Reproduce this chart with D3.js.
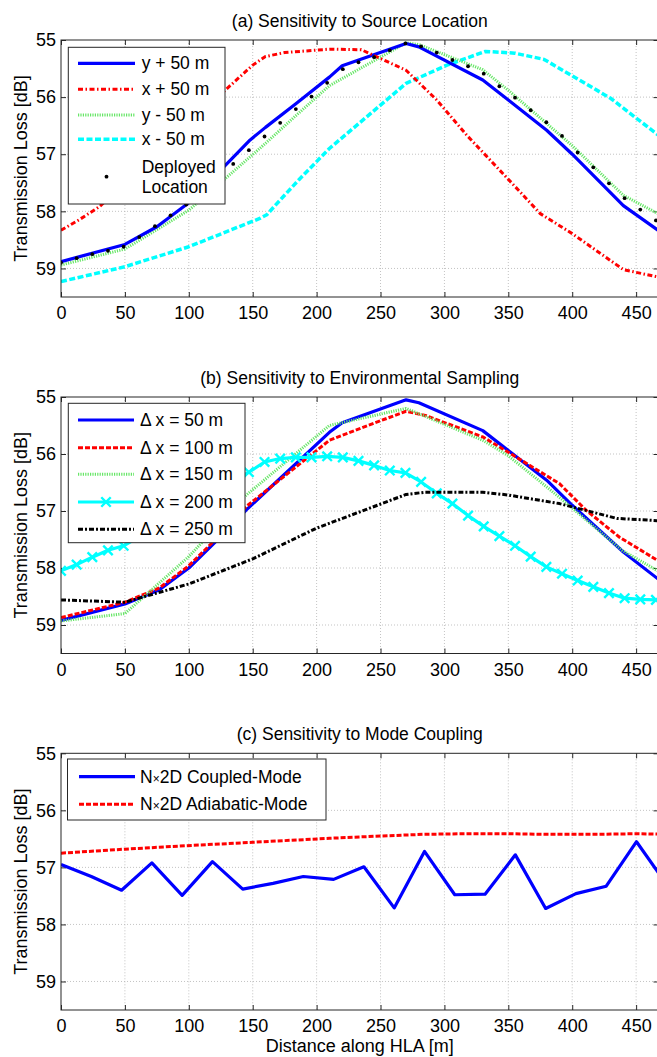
<!DOCTYPE html>
<html><head><meta charset="utf-8">
<script src="https://cdn.jsdelivr.net/npm/d3@7"></script>
<style>
body{margin:0;background:#fff}
svg{display:block}
text{font-family:"Liberation Sans",Arial,Helvetica,sans-serif;fill:#000}
</style>
</head><body>
<svg id="c" width="657" height="1057"></svg>
<script>
// ---------- tick labels ----------
const xTicks = [0, 50, 100, 150, 200, 250, 300, 350, 400, 450];
const yTicks = [55, 56, 57, 58, 59];
const titles = ["(a) Sensitivity to Source Location", "(b) Sensitivity to Environmental Sampling", "(c) Sensitivity to Mode Coupling"];
const yLabel = "Transmission Loss [dB]";
const xLabel = "Distance along HLA [m]";

// ---------- panel (a) ----------
const aYp50_x = [0, 50, 75, 100, 148, 160, 184, 210, 220, 270, 280, 330, 350, 380, 400, 440, 467];
const aYp50_y = [58.88, 58.58, 58.27, 57.85, 56.75, 56.53, 56.11, 55.65, 55.45, 55.06, 55.12, 55.70, 56.05, 56.58, 57.0, 57.9, 58.33];
const aXp50_x = [0, 14, 30, 50, 123, 150, 160, 175, 210, 235, 270, 294, 318, 350, 375, 400, 440, 467];
const aXp50_y = [58.33, 58.15, 57.92, 57.5, 55.99, 55.44, 55.29, 55.22, 55.16, 55.17, 55.53, 56.05, 56.68, 57.44, 58.04, 58.39, 59.02, 59.15];
const aYm50_x = [0, 50, 100, 135, 160, 183, 210, 270, 280, 330, 350, 400, 440, 467];
const aYm50_y = [58.94, 58.66, 57.98, 57.3, 56.81, 56.34, 55.8, 55.05, 55.08, 55.52, 55.88, 56.85, 57.72, 58.04];
const aXm50_x = [0, 50, 100, 156, 161, 174, 186, 210, 270, 302, 332, 355, 378, 430, 467];
const aXm50_y = [59.23, 58.97, 58.62, 58.12, 58.06, 57.74, 57.45, 56.9, 55.76, 55.44, 55.20, 55.23, 55.34, 56.02, 56.66];
const hlaX = [0, 12.25, 24.5, 36.75, 49, 61.25, 73.5, 85.75, 98, 110.25, 122.5, 134.75, 147, 159.25, 171.5, 183.75, 196, 208.25, 220.5, 232.75, 245, 257.25, 269.5, 281.75, 294, 306.25, 318.5, 330.75, 343, 355.25, 367.5, 379.75, 392, 404.25, 416.5, 428.75, 441, 453.25, 465.5];
const aDeployed = [58.90, 58.82, 58.75, 58.69, 58.62, 58.45, 58.26, 58.07, 57.88, 57.64, 57.41, 57.17, 56.93, 56.69, 56.45, 56.21, 55.99, 55.75, 55.51, 55.39, 55.30, 55.18, 55.06, 55.11, 55.22, 55.35, 55.46, 55.59, 55.81, 56.01, 56.23, 56.44, 56.68, 56.97, 57.23, 57.51, 57.77, 57.97, 58.16];

// ---------- panel (b) ----------
const bD50_x = [0, 50, 77, 100, 125, 145, 210, 220, 270, 280, 330, 350, 380, 400, 440, 467];
const bD50_y = [58.92, 58.63, 58.38, 58.0, 57.45, 56.98, 55.62, 55.45, 55.05, 55.1, 55.59, 55.94, 56.46, 56.9, 57.72, 58.19];
const bD100_x = [0, 50, 77, 100, 125, 145, 210, 240, 270, 286, 330, 350, 390, 411, 437, 467];
const bD100_y = [58.87, 58.6, 58.35, 57.96, 57.41, 56.92, 55.76, 55.5, 55.25, 55.33, 55.7, 55.97, 56.52, 56.99, 57.46, 57.87];
const bD150_x = [0, 50, 75, 100, 145, 210, 270, 330, 350, 390, 439, 467];
const bD150_y = [58.93, 58.8, 58.3, 57.8, 56.72, 55.5, 55.2, 55.76, 56.03, 56.76, 57.69, 58.05];
const bD200_y = [58.05, 57.94, 57.81, 57.69, 57.61, 57.45, 57.29, 57.12, 56.96, 56.80, 56.64, 56.48, 56.32, 56.14, 56.08, 56.06, 56.06, 56.04, 56.06, 56.12, 56.20, 56.29, 56.33, 56.49, 56.69, 56.87, 57.08, 57.27, 57.44, 57.61, 57.80, 57.98, 58.10, 58.22, 58.33, 58.44, 58.53, 58.55, 58.56];
const bD250_x = [0, 50, 100, 150, 200, 270, 285, 330, 350, 390, 435, 467];
const bD250_y = [58.56, 58.6, 58.28, 57.84, 57.3, 56.71, 56.67, 56.67, 56.72, 56.87, 57.13, 57.17];

// ---------- panel (c) ----------
const cX = [0, 23.7, 47.4, 71.1, 94.8, 118.5, 142.2, 165.9, 189.6, 213.3, 237, 260.7, 284.4, 308.1, 331.8, 355.5, 379.2, 402.9, 426.6, 450.3, 474];
const cCoupled = [56.95, 57.16, 57.4, 56.92, 57.49, 56.9, 57.38, 57.28, 57.16, 57.21, 56.99, 57.71, 56.72, 57.48, 57.47, 56.78, 57.72, 57.46, 57.33, 56.55, 57.3];
const cAdiab_x = [0, 50, 98, 150, 210, 250, 284, 318, 350, 378, 420, 450, 474];
const cAdiab_y = [56.75, 56.68, 56.62, 56.56, 56.49, 56.45, 56.42, 56.41, 56.41, 56.42, 56.42, 56.41, 56.42];

// ---------- layout / style ----------
const plotL = 61, plotR = 658.5;
const panelTB = [[40, 297], [397, 653.5], [753.3, 1010]];
const FS_TICK = 18, FS_TITLE = 17.5, FS_LEG = 17.5, FS_LAB = 18;

const sty = {
  blue:   {stroke: "#0000ff", w: 3.2, dash: null},
  redDD:  {stroke: "#ff0000", w: 3, dash: "5,2.5,1.5,2.5"},
  green:  {stroke: "#66e666", w: 3, dash: "1.2,1.2"},
  cyanD:  {stroke: "#00ffff", w: 3.5, dash: "6,2.5"},
  redD:   {stroke: "#ff0000", w: 3, dash: "5,2"},
  cyanS:  {stroke: "#00ffff", w: 3.2, dash: null, marker: true},
  blackDD:{stroke: "#000000", w: 3, dash: "5,2,2,2"},
  dots:   {dots: true}
};

const panels = [
  {series: [
    {name: "y + 50 m", x: aYp50_x, y: aYp50_y, s: sty.blue},
    {name: "x + 50 m", x: aXp50_x, y: aXp50_y, s: sty.redDD},
    {name: "y - 50 m", x: aYm50_x, y: aYm50_y, s: sty.green},
    {name: "x - 50 m", x: aXm50_x, y: aXm50_y, s: sty.cyanD},
    {name: ["Deployed", "Location"], x: hlaX, y: aDeployed, s: sty.dots}
   ],
   order: [3, 2, 0, 1, 4],
   legend: {x0: 68.3, x1: 225, y0: 47.3, y1: 204, rows: [63.3, 89.3, 115, 139.3, 176.7], sx0: 78, sx1: 135, tx: 141.7}
  },
  {series: [
    {name: "Δ x = 50 m", x: bD50_x, y: bD50_y, s: sty.blue},
    {name: "Δ x = 100 m", x: bD100_x, y: bD100_y, s: sty.redD},
    {name: "Δ x = 150 m", x: bD150_x, y: bD150_y, s: sty.green},
    {name: "Δ x = 200 m", x: hlaX, y: bD200_y, s: sty.cyanS},
    {name: "Δ x = 250 m", x: bD250_x, y: bD250_y, s: sty.blackDD}
   ],
   order: [0, 1, 2, 3, 4],
   legend: {x0: 68.3, x1: 245, y0: 403.3, y1: 542.7, rows: [420, 447.7, 474.3, 502, 529.3], sx0: 78, sx1: 134, tx: 140}
  },
  {series: [
    {name: "N×2D Coupled-Mode", x: cX, y: cCoupled, s: sty.blue},
    {name: "N×2D Adiabatic-Mode", x: cAdiab_x, y: cAdiab_y, s: sty.redD}
   ],
   order: [0, 1],
   legend: {x0: 67.5, x1: 326, y0: 759, y1: 820, rows: [776.7, 804.3], sx0: 79, sx1: 135, tx: 140}
  }
];

const svg = d3.select("#c");
const x = d3.scaleLinear().domain([0, 467.5]).range([plotL, plotR]);
const xSymbol = d3.symbol().type(d3.symbolX).size(60);

panels.forEach((p, pi) => {
  const [top, bot] = panelTB[pi];
  const y = d3.scaleLinear().domain([55, 59.5]).range([top, bot]);
  const g = svg.append("g");
  const clipId = "clip" + pi;
  svg.append("clipPath").attr("id", clipId).append("rect")
    .attr("x", plotL).attr("y", top).attr("width", plotR - plotL).attr("height", bot - top);

  // grid
  const grid = g.append("g").attr("stroke", "#b4b4b4").attr("stroke-width", 0.8).attr("stroke-dasharray", "1,2");
  xTicks.forEach(t => { if (t > 0) grid.append("line").attr("x1", x(t)).attr("x2", x(t)).attr("y1", top).attr("y2", bot); });
  yTicks.forEach(t => { if (t > 55) grid.append("line").attr("x1", plotL).attr("x2", plotR).attr("y1", y(t)).attr("y2", y(t)); });

  // axes
  const ax = g.append("g").attr("transform", `translate(0,${bot})`)
    .call(d3.axisBottom(x).tickValues(xTicks).tickFormat(d3.format("d")).tickSizeInner(-5).tickSizeOuter(0).tickPadding(9.7));
  const axT = g.append("g").attr("transform", `translate(0,${top})`)
    .call(d3.axisTop(x).tickValues(xTicks).tickSizeInner(-5).tickSizeOuter(0).tickFormat(""));
  const ay = g.append("g").attr("transform", `translate(${plotL},0)`)
    .call(d3.axisLeft(y).tickValues(yTicks).tickFormat(d3.format("d")).tickSizeInner(-5).tickSizeOuter(0).tickPadding(5));
  const ayR = g.append("g").attr("transform", `translate(${plotR},0)`)
    .call(d3.axisRight(y).tickValues(yTicks).tickSizeInner(-5).tickSizeOuter(0).tickFormat(""));
  [ax, axT, ay, ayR].forEach(a => {
    a.select(".domain").remove();
    a.selectAll("line").attr("stroke", "#262626");
    a.selectAll("text").attr("font-size", FS_TICK).attr("font-family", null).attr("fill", "#000");
  });

  // series
  const lines = g.append("g").attr("clip-path", `url(#${clipId})`);
  p.order.forEach(si => {
    const s = p.series[si];
    const pts = s.x.map((v, i) => [v, s.y[i]]);
    if (s.s.dots) {
      lines.selectAll(null).data(pts).enter().append("circle")
        .attr("cx", d => x(d[0])).attr("cy", d => y(d[1])).attr("r", 1.9).attr("fill", "#000");
      return;
    }
    lines.append("path").datum(pts)
      .attr("d", d3.line().x(d => x(d[0])).y(d => y(d[1])))
      .attr("fill", "none").attr("stroke", s.s.stroke).attr("stroke-width", s.s.w)
      .attr("stroke-dasharray", s.s.dash).attr("stroke-linejoin", "round");
    if (s.s.marker) {
      lines.selectAll(null).data(pts).enter().append("path")
        .attr("d", xSymbol).attr("transform", d => `translate(${x(d[0])},${y(d[1])})`)
        .attr("fill", "none").attr("stroke", s.s.stroke).attr("stroke-width", 2.4);
    }
  });

  // box
  g.append("rect").attr("x", plotL).attr("y", top).attr("width", plotR - plotL).attr("height", bot - top)
    .attr("fill", "none").attr("stroke", "#262626").attr("stroke-width", 1);

  // title
  g.append("text").attr("x", (plotL + plotR) / 2).attr("y", top - 13)
    .attr("text-anchor", "middle").attr("font-size", FS_TITLE).text(titles[pi]);

  // y label
  g.append("text").attr("transform", `translate(27,${(top + bot) / 2}) rotate(-90)`)
    .attr("text-anchor", "middle").attr("font-size", FS_LAB).text(yLabel);

  // legend
  const L = p.legend;
  const lg = g.append("g");
  lg.append("rect").attr("x", L.x0).attr("y", L.y0).attr("width", L.x1 - L.x0).attr("height", L.y1 - L.y0)
    .attr("fill", "#fff").attr("stroke", "#262626").attr("stroke-width", 1);
  p.series.forEach((s, i) => {
    const ry = L.rows[i];
    if (s.s.dots) {
      lg.append("circle").attr("cx", (L.sx0 + L.sx1) / 2).attr("cy", ry).attr("r", 1.9).attr("fill", "#000");
      s.name.forEach((nm, k) => lg.append("text").attr("x", L.tx).attr("y", ry + (k === 0 ? -9.5 : 10))
        .attr("dy", "0.35em").attr("font-size", FS_LEG).text(nm));
      return;
    }
    lg.append("line").attr("x1", L.sx0).attr("x2", L.sx1).attr("y1", ry).attr("y2", ry)
      .attr("stroke", s.s.stroke).attr("stroke-width", s.s.w).attr("stroke-dasharray", s.s.dash);
    if (s.s.marker) {
      lg.append("path").attr("d", xSymbol).attr("transform", `translate(${(L.sx0 + L.sx1) / 2},${ry})`)
        .attr("fill", "none").attr("stroke", s.s.stroke).attr("stroke-width", 2.4);
    }
    const t = lg.append("text").attr("x", L.tx).attr("y", ry).attr("dy", "0.35em").attr("font-size", FS_LEG);
    if (s.name.indexOf("×") >= 0) {
      const parts = s.name.split("×");
      t.append("tspan").text(parts[0]);
      t.append("tspan").attr("font-size", 12).text("×");
      t.append("tspan").text(parts[1]);
    } else {
      t.text(s.name);
    }
  });
});

// x label
svg.append("text").attr("x", (plotL + plotR) / 2).attr("y", 1051.5)
  .attr("text-anchor", "middle").attr("font-size", FS_LAB).text(xLabel);
</script>
</body></html>
